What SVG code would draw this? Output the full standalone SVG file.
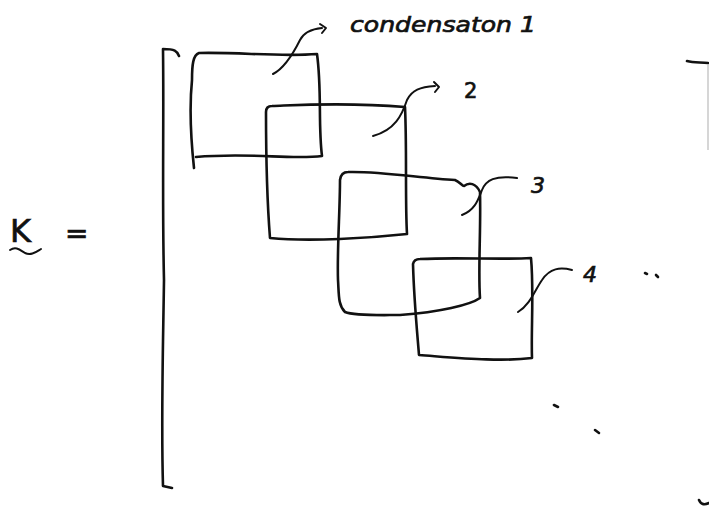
<svg xmlns="http://www.w3.org/2000/svg" width="709" height="508" viewBox="0 0 709 508">
<style>
.ink{fill:none;stroke:#111;stroke-width:2.6;stroke-linecap:round;stroke-linejoin:round}
.thin{fill:none;stroke:#111;stroke-width:2;stroke-linecap:round;stroke-linejoin:round}
.faint{fill:none;stroke:#bbb;stroke-width:1.2}
.hand{font-family:"DejaVu Sans","Liberation Sans",sans-serif;fill:#111;stroke:#111;stroke-width:0.7}
</style>
<rect width="709" height="508" fill="#fff"/>
<g id="symbol-K">
<text class="hand" x="10" y="242" font-size="32">K</text>
<path class="thin" d="M10,250 C16,246 20,250 25,253 C31,256 36,252 41,249"/>
<text class="hand" x="65" y="243" font-size="28">=</text>
</g>
<g id="bracket-left">
<path class="ink" d="M179,56 C177,51 175,49 163,49 C164,120 162,200 164,280 C163,350 161,420 163,486 L172,488"/>
</g>
<g id="bracket-right">
<path class="ink" d="M687,61 C694,63 701,62 708,63"/>
<path class="faint" d="M708,64 L708,150"/>
<path class="ink" d="M699,500 C701,505 705,505 709,503"/>
</g>
<g id="block-1">
<path class="ink" d="M194,168 C191,140 189,110 192,80 C192,65 193,55 199,53 C240,52 280,57 317,54 C322,90 318,125 322,156 C290,160 250,152 196,157"/>
<text class="hand" x="350" y="32" font-size="22" font-style="italic" textLength="186" lengthAdjust="spacingAndGlyphs">condensaton 1</text>
</g>
<g id="block-2">
<path class="ink" d="M266,112 Q266,106 272,106 C300,105 345,102 405,107 C407,150 405,200 407,234 C370,238 310,242 270,238 C267,200 266,160 266,112"/>
<text class="hand" x="464" y="98" font-size="21">2</text>
</g>
<g id="block-3">
<path class="ink" d="M340,180 Q341,172 348,172 C380,171 420,178 455,180 C460,182 462,186 464,186 C469,182 476,183 480,192 C481,230 478,270 480,298 C470,305 440,312 400,315 C380,315 355,316 345,312 C338,305 339,295 338,280 C337,250 340,210 340,180"/>
<text class="hand" x="531" y="193" font-size="22" font-style="italic">3</text>
</g>
<g id="block-4">
<path class="ink" d="M413,264 Q414,259 420,259 C460,257 500,260 531,258 C534,290 531,330 532,358 C500,362 460,358 419,355 C417,330 414,300 413,264"/>
<text class="hand" x="583" y="282" font-size="22" font-style="italic">4</text>
</g>
<g id="connectors">
<path class="thin" d="M273,74 C285,68 295,50 300,40 C304,32 312,29 322,28"/>
<path class="thin" d="M320,24 L326,28 L322,33"/>
<path class="thin" d="M373,136 C395,130 402,115 407,100 C412,90 420,87 435,86"/>
<path class="thin" d="M434,82 L439,87 L435,92"/>
<path class="thin" d="M462,215 C475,210 478,200 482,190 C486,180 495,175 517,178"/>
<path class="thin" d="M518,312 C530,305 535,290 542,280 C550,268 560,267 572,270"/>
</g>
<g id="ellipsis">
<path class="ink" d="M645,273 L647,274"/>
<path class="ink" d="M656,275 L658,277"/>
<path class="ink" d="M554,405 L558,407"/>
<path class="ink" d="M595,430 L599,433"/>
</g>
</svg>
